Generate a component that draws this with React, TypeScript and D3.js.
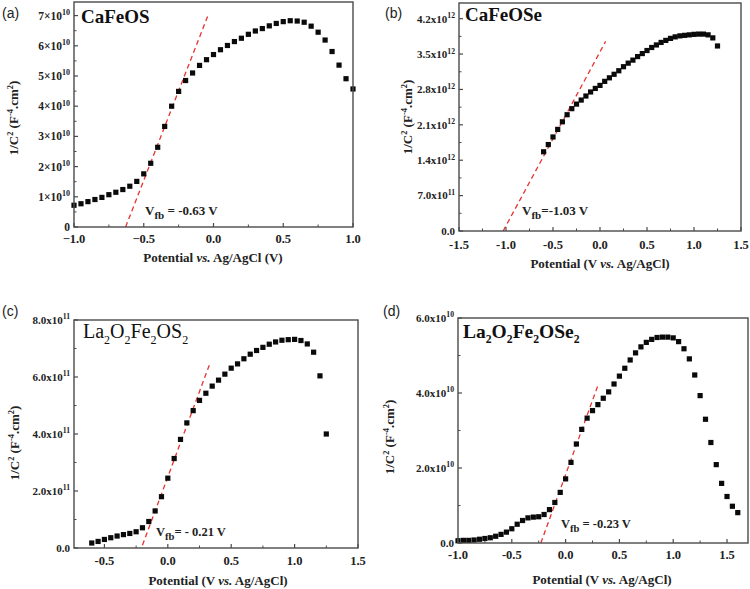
import React from "react";
import * as d3 from "d3";

// ---------- DATA ----------
// (a) CaFeOS  (y in units of 1e10)
const aX = [-1.0,-0.95,-0.9,-0.85,-0.8,-0.75,-0.7,-0.65,-0.6,-0.55,-0.5,-0.45,-0.4,-0.35,-0.3,-0.25,-0.2,-0.15,-0.1,-0.05,0,0.05,0.1,0.15,0.2,0.25,0.3,0.35,0.4,0.45,0.5,0.55,0.6,0.65,0.7,0.75,0.8,0.85,0.9,0.95,1.0];
const aY = [0.72,0.77,0.84,0.91,0.98,1.07,1.15,1.24,1.35,1.51,1.76,2.11,2.64,3.33,4.0,4.49,4.85,5.1,5.35,5.54,5.71,5.87,6.01,6.14,6.25,6.38,6.49,6.57,6.66,6.74,6.80,6.83,6.82,6.78,6.65,6.45,6.19,5.81,5.36,4.91,4.57];
const aFit = [[-0.63, 0], [-0.04, 7.0]];
const aXTicks = [-1, -0.5, 0, 0.5, 1];
const aXTickLabels = ["\u22121.0", "\u22120.5", "0.0", "0.5", "1.0"];
const aYTicks = [0, 1, 2, 3, 4, 5, 6, 7];
const aYTickLabels = ["0", "1\u00d710^10", "2\u00d710^10", "3\u00d710^10", "4\u00d710^10", "5\u00d710^10", "6\u00d710^10", "7\u00d710^10"];

// (b) CaFeOSe (y in units of 1e12)
const bX = [-0.6,-0.55,-0.5,-0.45,-0.4,-0.35,-0.3,-0.25,-0.2,-0.15,-0.1,-0.05,0,0.05,0.1,0.15,0.2,0.25,0.3,0.35,0.4,0.45,0.5,0.55,0.6,0.65,0.7,0.75,0.8,0.85,0.9,0.95,1.0,1.05,1.1,1.15,1.2,1.25];
const bY = [1.567,1.71,1.86,2.01,2.16,2.30,2.42,2.51,2.59,2.67,2.75,2.82,2.88,2.96,3.03,3.10,3.17,3.25,3.32,3.38,3.45,3.51,3.57,3.63,3.68,3.73,3.77,3.81,3.84,3.86,3.87,3.88,3.89,3.895,3.895,3.88,3.82,3.66];
const bFit = [[-1.03, 0], [0.06, 3.75]];
const bXTicks = [-1.5, -1, -0.5, 0, 0.5, 1, 1.5];
const bXTickLabels = ["-1.5", "-1.0", "-0.5", "0.0", "0.5", "1.0", "1.5"];
const bYTicks = [0, 0.7, 1.4, 2.1, 2.8, 3.5, 4.2];
const bYTickLabels = ["0.0", "7.0x10^11", "1.4x10^12", "2.1x10^12", "2.8x10^12", "3.5x10^12", "4.2x10^12"];

// (c) La2O2Fe2OS2 (y in units of 1e11)
const cX = [-0.6,-0.55,-0.5,-0.45,-0.4,-0.35,-0.3,-0.25,-0.2,-0.15,-0.1,-0.05,0,0.05,0.1,0.15,0.2,0.25,0.3,0.35,0.4,0.45,0.5,0.55,0.6,0.65,0.7,0.75,0.8,0.85,0.9,0.95,1.0,1.05,1.1,1.15,1.2,1.25];
const cY = [0.175,0.23,0.30,0.36,0.42,0.47,0.51,0.57,0.71,0.93,1.30,1.80,2.45,3.14,3.81,4.39,4.82,5.18,5.43,5.68,5.89,6.10,6.31,6.46,6.64,6.80,6.93,7.04,7.15,7.23,7.29,7.31,7.32,7.28,7.16,6.87,6.04,4.0];
const cFit = [[-0.2, 0.1], [0.33, 6.45]];
const cXTicks = [-0.5, 0, 0.5, 1, 1.5];
const cXTickLabels = ["-0.5", "0.0", "0.5", "1.0", "1.5"];
const cYTicks = [0, 2, 4, 6, 8];
const cYTickLabels = ["0.0", "2.0x10^11", "4.0x10^11", "6.0x10^11", "8.0x10^11"];

// (d) La2O2Fe2OSe2 (y in units of 1e10)
const dX = [-1.0,-0.95,-0.9,-0.85,-0.8,-0.75,-0.7,-0.65,-0.6,-0.55,-0.5,-0.45,-0.4,-0.35,-0.3,-0.25,-0.2,-0.15,-0.1,-0.05,0,0.05,0.1,0.15,0.2,0.25,0.3,0.35,0.4,0.45,0.5,0.55,0.6,0.65,0.7,0.75,0.8,0.85,0.9,0.95,1.0,1.05,1.1,1.15,1.2,1.25,1.3,1.35,1.4,1.45,1.5,1.55,1.6];
const dY = [0.06,0.07,0.07,0.08,0.10,0.12,0.14,0.18,0.23,0.29,0.38,0.50,0.60,0.67,0.69,0.70,0.76,0.89,1.08,1.35,1.71,2.15,2.64,3.03,3.33,3.53,3.69,3.86,4.03,4.24,4.45,4.66,4.88,5.07,5.23,5.35,5.43,5.48,5.49,5.49,5.47,5.37,5.18,4.91,4.48,3.93,3.30,2.68,2.09,1.59,1.24,0.98,0.81];
const dFit = [[-0.23, 0], [0.30, 4.2]];
const dXTicks = [-1, -0.5, 0, 0.5, 1, 1.5];
const dXTickLabels = ["-1.0", "-0.5", "0.0", "0.5", "1.0", "1.5"];
const dYTicks = [0, 2, 4, 6];
const dYTickLabels = ["0.0", "2.0x10^10", "4.0x10^10", "6.0x10^10"];

// ---------- RENDERING ----------
const SERIF = "'Liberation Serif', 'Times New Roman', serif";
const SANS = "'Liberation Sans', Arial, sans-serif";
const FRAME = "#4a4a4a";
const AXIS_FS = 13;

type Seg = { t: string; k?: "sup" | "sub" | "i" };

function rich(segs: Seg[], fs: number, subScale = 0.65) {
  let shift = 0;
  return segs.map((s, i) => {
    const target = s.k === "sup" ? -fs * 0.4 : s.k === "sub" ? fs * 0.28 : 0;
    const dy = target - shift;
    shift = target;
    const small = s.k === "sup" || s.k === "sub";
    return (
      <tspan key={i} dy={dy !== 0 ? dy : undefined} fontSize={small ? fs * subScale : undefined} fontStyle={s.k === "i" ? "italic" : undefined}>
        {s.t}
      </tspan>
    );
  });
}

function parseTick(label: string): Seg[] {
  const p = label.split("^");
  if (p.length === 1) return [{ t: label }];
  return [{ t: p[0] }, { t: p[1], k: "sup" }];
}

const yTitleSegs: Seg[] = [
  { t: "1/C" }, { t: "2", k: "sup" }, { t: " (F" }, { t: "-4", k: "sup" }, { t: ".cm" }, { t: "2", k: "sup" }, { t: ")" },
];

type PanelCfg = {
  box: [number, number, number, number];
  xDomain: [number, number];
  yDomain: [number, number];
  xs: number[];
  ys: number[];
  fit: number[][];
  xTicks: number[];
  xTickLabels: string[];
  xMinor: number[];
  yTicks: number[];
  yTickLabels: string[];
  yMinor: number[];
  xLabelDy: number;
  yTickFs: number;
  xTickFs: number;
  tag: string;
  tagPos: [number, number];
  title: Seg[];
  titlePos: [number, number];
  titleFs: number;
  titleWeight: string;
  vfb: string;
  vfbPos: [number, number];
  vfbFs: number;
  xTitle: Seg[];
  xTitlePos: [number, number];
  yTitlePos: [number, number];
};

function Panel({ c }: { c: PanelCfg }) {
  const [l, r, t, b] = c.box;
  const x = d3.scaleLinear().domain(c.xDomain).range([l, r]);
  const y = d3.scaleLinear().domain(c.yDomain).range([b, t]);
  const line = d3.line<number[]>().x((d) => x(d[0])).y((d) => y(d[1]));
  const ms = 5.2;
  return (
    <g>
      <text x={c.tagPos[0]} y={c.tagPos[1]} fontFamily={SANS} fontSize={14} fill="#222">{c.tag}</text>
      <path d={line(c.fit) || ""} fill="none" stroke="#e8332f" strokeWidth={1.3} strokeDasharray="5,3.5" />
      {c.xs.map((xv, i) => (
        <rect key={i} x={x(xv) - ms / 2} y={y(c.ys[i]) - ms / 2} width={ms} height={ms} fill="#0a0a0a" />
      ))}
      <rect x={l} y={t} width={r - l} height={b - t} fill="none" stroke={FRAME} strokeWidth={1.4} />
      {c.xTicks.map((v, i) => (
        <g key={"xt" + i}>
          <line x1={x(v)} x2={x(v)} y1={b} y2={b - 4} stroke={FRAME} strokeWidth={1.2} />
          <text x={x(v)} y={b + c.xLabelDy} textAnchor="middle" fontFamily={SERIF} fontWeight="bold" fontSize={c.xTickFs} fill="#222">
            {c.xTickLabels[i]}
          </text>
        </g>
      ))}
      {c.xMinor.map((v, i) => (
        <line key={"xm" + i} x1={x(v)} x2={x(v)} y1={b} y2={b - 2.5} stroke={FRAME} strokeWidth={1} />
      ))}
      {c.yTicks.map((v, i) => (
        <g key={"yt" + i}>
          <line x1={l} x2={l + 4} y1={y(v)} y2={y(v)} stroke={FRAME} strokeWidth={1.2} />
          <text x={l - 4} y={y(v) + c.yTickFs * 0.35} textAnchor="end" fontFamily={SERIF} fontWeight="bold" fontSize={c.yTickFs} fill="#222">
            {rich(parseTick(c.yTickLabels[i]), c.yTickFs, 0.7)}
          </text>
        </g>
      ))}
      {c.yMinor.map((v, i) => (
        <line key={"ym" + i} x1={l} x2={l + 2.5} y1={y(v)} y2={y(v)} stroke={FRAME} strokeWidth={1} />
      ))}
      <text x={c.titlePos[0]} y={c.titlePos[1]} fontFamily={SERIF} fontWeight={c.titleWeight} fontSize={c.titleFs} fill="#111">
        {rich(c.title, c.titleFs, 0.6)}
      </text>
      <text x={c.vfbPos[0]} y={c.vfbPos[1]} fontFamily={SERIF} fontWeight="bold" fontSize={c.vfbFs} fill="#222">
        {rich([{ t: "V" }, { t: "fb", k: "sub" }, { t: c.vfb }], c.vfbFs, 0.85)}
      </text>
      <text x={c.xTitlePos[0]} y={c.xTitlePos[1]} textAnchor="middle" fontFamily={SERIF} fontWeight="bold" fontSize={AXIS_FS} fill="#222">
        {rich(c.xTitle, AXIS_FS)}
      </text>
      <text transform={`translate(${c.yTitlePos[0]},${c.yTitlePos[1]}) rotate(-90)`} textAnchor="middle" fontFamily={SERIF} fontWeight="bold" fontSize={AXIS_FS} fill="#222">
        {rich(yTitleSegs, AXIS_FS)}
      </text>
    </g>
  );
}

const panels: PanelCfg[] = [
  {
    box: [74, 353, 2, 227], xDomain: [-1, 1], yDomain: [0, 7.45],
    xs: aX, ys: aY, fit: aFit,
    xTicks: aXTicks, xTickLabels: aXTickLabels, xMinor: [-0.75, -0.25, 0.25, 0.75],
    yTicks: aYTicks, yTickLabels: aYTickLabels, yMinor: [0.5, 1.5, 2.5, 3.5, 4.5, 5.5, 6.5],
    xLabelDy: 16, yTickFs: 11.5, xTickFs: 12.5,
    tag: "(a)", tagPos: [2, 18],
    title: [{ t: "CaFeOS" }], titlePos: [81, 23], titleFs: 19, titleWeight: "bold",
    vfb: " = -0.63 V", vfbPos: [145, 215], vfbFs: 13,
    xTitle: [{ t: "Potential " }, { t: "vs.", k: "i" }, { t: " Ag/AgCl (V)" }], xTitlePos: [213, 262],
    yTitlePos: [18, 118],
  },
  {
    box: [459, 741, 3, 231], xDomain: [-1.5, 1.5], yDomain: [0, 4.51],
    xs: bX, ys: bY, fit: bFit,
    xTicks: bXTicks, xTickLabels: bXTickLabels, xMinor: [-1.25, -0.75, -0.25, 0.25, 0.75, 1.25],
    yTicks: bYTicks, yTickLabels: bYTickLabels, yMinor: [0.35, 1.05, 1.75, 2.45, 3.15, 3.85],
    xLabelDy: 18, yTickFs: 11, xTickFs: 12.5,
    tag: "(b)", tagPos: [385, 18],
    title: [{ t: "CaFeOSe" }], titlePos: [465, 21], titleFs: 19, titleWeight: "bold",
    vfb: "=-1.03 V", vfbPos: [522, 215], vfbFs: 13,
    xTitle: [{ t: "Potential (V " }, { t: "vs.", k: "i" }, { t: " Ag/AgCl)" }], xTitlePos: [600, 268],
    yTitlePos: [412, 117],
  },
  {
    box: [74, 358, 320, 548], xDomain: [-0.74, 1.5], yDomain: [0, 8],
    xs: cX, ys: cY, fit: cFit,
    xTicks: cXTicks, xTickLabels: cXTickLabels, xMinor: [-0.25, 0.25, 0.75, 1.25],
    yTicks: cYTicks, yTickLabels: cYTickLabels, yMinor: [1, 3, 5, 7],
    xLabelDy: 17, yTickFs: 11, xTickFs: 12.5,
    tag: "(c)", tagPos: [2, 316],
    title: [{ t: "La" }, { t: "2", k: "sub" }, { t: "O" }, { t: "2", k: "sub" }, { t: "Fe" }, { t: "2", k: "sub" }, { t: "OS" }, { t: "2", k: "sub" }],
    titlePos: [83, 338], titleFs: 20, titleWeight: "normal",
    vfb: "= - 0.21 V", vfbPos: [156, 536], vfbFs: 12.5,
    xTitle: [{ t: "Potential (V " }, { t: "vs.", k: "i" }, { t: " Ag/AgCl)" }], xTitlePos: [218, 585],
    yTitlePos: [19, 443],
  },
  {
    box: [458, 748, 318, 543], xDomain: [-1, 1.695], yDomain: [0, 6],
    xs: dX, ys: dY, fit: dFit,
    xTicks: dXTicks, xTickLabels: dXTickLabels, xMinor: [-0.75, -0.25, 0.25, 0.75, 1.25],
    yTicks: dYTicks, yTickLabels: dYTickLabels, yMinor: [1, 3, 5],
    xLabelDy: 15.5, yTickFs: 11, xTickFs: 12.5,
    tag: "(d)", tagPos: [383, 316],
    title: [{ t: "La" }, { t: "2", k: "sub" }, { t: "O" }, { t: "2", k: "sub" }, { t: "Fe" }, { t: "2", k: "sub" }, { t: "OSe" }, { t: "2", k: "sub" }],
    titlePos: [463, 338], titleFs: 19.5, titleWeight: "bold",
    vfb: " = -0.23 V", vfbPos: [561, 528], vfbFs: 12.5,
    xTitle: [{ t: "Potential (V " }, { t: "vs.", k: "i" }, { t: " Ag/AgCl)" }], xTitlePos: [602, 584],
    yTitlePos: [394, 437],
  },
];

export default function App() {
  return (
    <svg width={750} height={589} style={{ position: "absolute", left: 0, top: 0, background: "#fff" }}>
      <rect x={0} y={0} width={750} height={589} fill="#fff" />
      {panels.map((p, i) => (
        <Panel key={i} c={p} />
      ))}
    </svg>
  );
}
